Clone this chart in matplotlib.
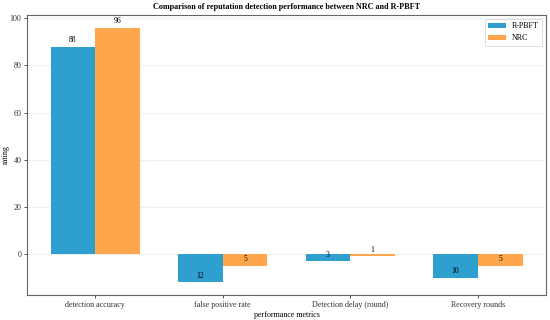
import matplotlib
matplotlib.use("Agg")
import matplotlib.pyplot as plt
import numpy as np

categories = ["detection accuracy", "false positive rate", "Detection delay (round)", "Recovery rounds"]
rpbft = [88, -12, -3, -10]
nrc = [96, -5, -1, -5]
series_names = ["R-PBFT", "NRC"]
colors = ["#2f9fcf", "#fea64c"]

plt.rcParams['font.family'] = ['Liberation Serif', 'DejaVu Serif']

fig, ax = plt.subplots(figsize=(5.5, 3.2), dpi=100)
x = np.arange(len(categories))
w = 0.35
b1 = ax.bar(x - w/2, rpbft, w, color=colors[0], label=series_names[0], zorder=2)
b2 = ax.bar(x + w/2, nrc, w, color=colors[1], label=series_names[1], zorder=2)
for bars, vals in ((b1, rpbft), (b2, nrc)):
    for rect, v in zip(bars, vals):
        ax.text(rect.get_x() + rect.get_width()/2, v + 1, str(abs(v)),
                ha='center', va='bottom', fontsize=5.5)

ax.set_xticks(x)
ax.set_xticklabels(categories, fontsize=5.8)
ax.tick_params(axis='y', labelsize=5.8, length=2.5, width=0.6, pad=1.5, colors='#333333')
ax.tick_params(axis='x', length=2.5, width=0.6, pad=1.5, colors='#333333')
ax.set_yticks([0, 20, 40, 60, 80, 100])
ax.yaxis.grid(True, color='#eeeeee', linewidth=0.6, zorder=0)
ax.set_axisbelow(True)
for s in ax.spines.values():
    s.set_color('#666666')
    s.set_linewidth(0.8)
ax.set_xlabel("performance metrics", fontsize=5.8, labelpad=2)
ax.set_ylabel("rating", fontsize=5.8)
ax.yaxis.set_label_coords(-0.033, 0.5)
ax.set_title("Comparison of reputation detection performance between NRC and R-PBFT",
             fontsize=5.9, fontweight='bold', pad=4)
leg = ax.legend(loc='upper right', fontsize=5.8, frameon=True, handlelength=2.2)
leg.get_frame().set_edgecolor('#cccccc')
leg.get_frame().set_linewidth(0.6)
fig.subplots_adjust(left=0.049, right=0.993, top=0.953, bottom=0.078)
fig.savefig("out.png", dpi=100)
